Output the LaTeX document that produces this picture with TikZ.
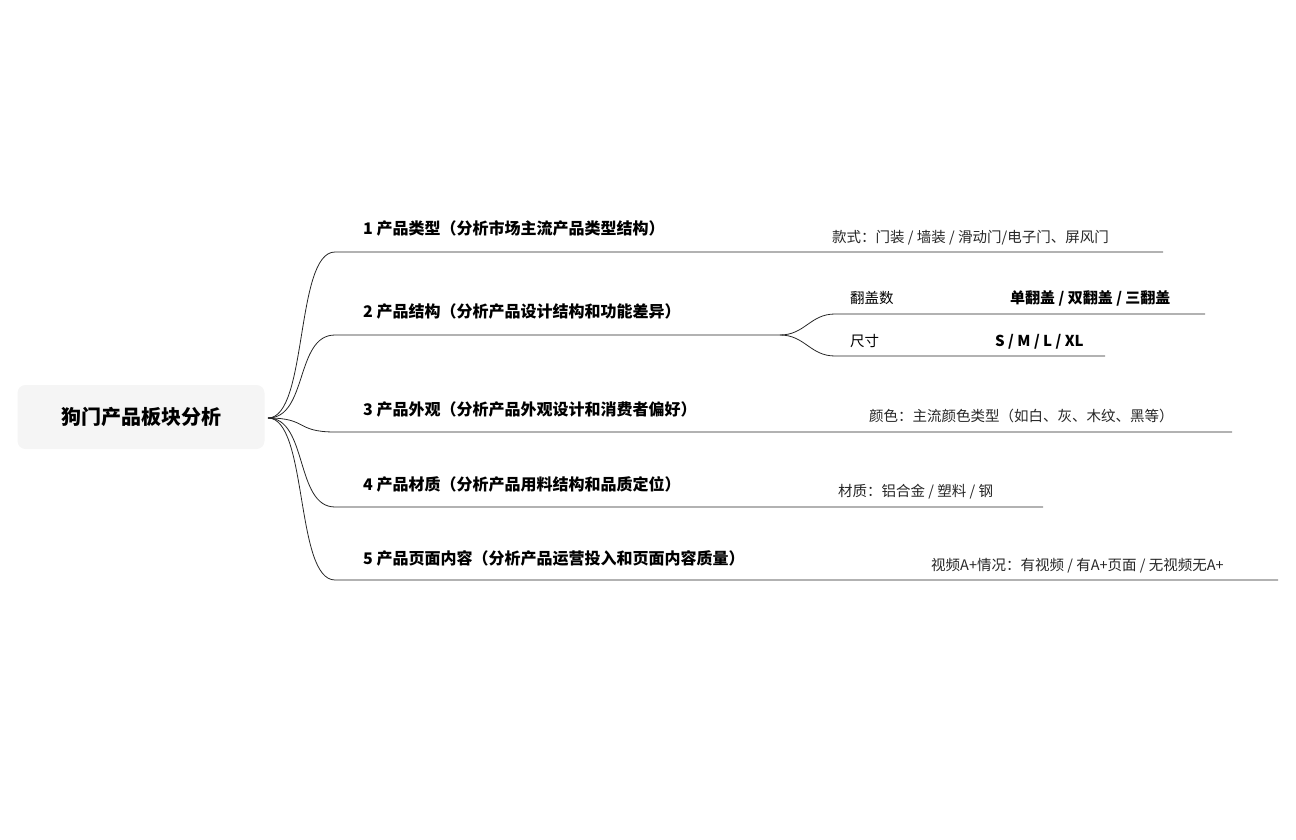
\documentclass[tikz,border=0pt]{standalone}
\usepackage{fontspec}
\setmainfont{Noto Sans CJK SC}
\usetikzlibrary{calc}
\tikzset{
  branch/.style={anchor=base west, font=\fontsize{16}{18}\selectfont\bfseries, inner sep=0pt},
  leaf/.style={anchor=base west, font=\fontsize{14.5}{16}\selectfont, text=black!85, inner sep=0pt},
  subleaf/.style={anchor=base west, font=\fontsize{15}{17}\selectfont\bfseries, inner sep=0pt},
  link/.style={draw=black!85, line width=0.8pt},
}
\begin{document}
\begin{tikzpicture}[x=1pt,y=-1pt]
    \useasboundingbox (0,0) rectangle (1296,840);

    % Root
    \node[fill=black!4, rounded corners=8pt, minimum width=247pt, minimum height=64pt,
          font=\fontsize{20}{24}\selectfont\bfseries] (root) at (141,417) {狗门产品板块分析};
    \coordinate (hub) at (268,418);

    % Branch ends
    \coordinate (b1) at (335,252);
    \coordinate (b2) at (335,335);
    \coordinate (b3) at (335,432);
    \coordinate (b4) at (335,507);
    \coordinate (b5) at (335,580);
    \coordinate (e1) at (1163,252);
    \coordinate (e2) at (780,335);
    \coordinate (e3) at (1232,432);
    \coordinate (e4) at (1043,507);
    \coordinate (e5) at (1278,580);

    % Curves from root and underlines
    \foreach \i in {1,...,5} {
      \draw[link] (hub) .. controls ($(hub)+(40,0)$) and ($(b\i)+(-40,0)$) .. (b\i) -- (e\i);
    }

    % Branch labels
    \node[branch] (t1) at (363,234) {1 产品类型（分析市场主流产品类型结构）};
    \node[branch] (t2) at (363,317) {2 产品结构（分析产品设计结构和功能差异）};
    \node[branch] (t3) at (363,415) {3 产品外观（分析产品外观设计和消费者偏好）};
    \node[branch] (t4) at (363,490) {4 产品材质（分析产品用料结构和品质定位）};
    \node[branch] (t5) at (363,564) {5 产品页面内容（分析产品运营投入和页面内容质量）};

    % Leaves
    \node[leaf] (l1) at (832,242) {款式：门装 / 墙装 / 滑动门/电子门、屏风门};
    \node[leaf] (l3) at (869,421) {颜色：主流颜色类型（如白、灰、木纹、黑等）};
    \node[leaf] (l4) at (838,496) {材质：铝合金 / 塑料 / 钢};
    \node[leaf] (l5) at (931,570) {视频A+情况：有视频 / 有A+页面 / 无视频无A+};

    % Sub-branches of 2
    \coordinate (s1) at (835,314);
    \coordinate (s2) at (835,356);
    \draw[link] (e2) .. controls (805,335) and (810,314) .. (s1) -- (1205,314);
    \draw[link] (e2) .. controls (805,335) and (810,356) .. (s2) -- (1105,356);
    \node[leaf, text=black] (m1) at (850,303) {翻盖数};
    \node[leaf, text=black] (m2) at (850,346) {尺寸};
    \node[subleaf] (n1) at (1010,303) {单翻盖 / 双翻盖 / 三翻盖};
    \node[subleaf] (n2) at (995,346) {S / M / L / XL};
\end{tikzpicture}
\end{document}
